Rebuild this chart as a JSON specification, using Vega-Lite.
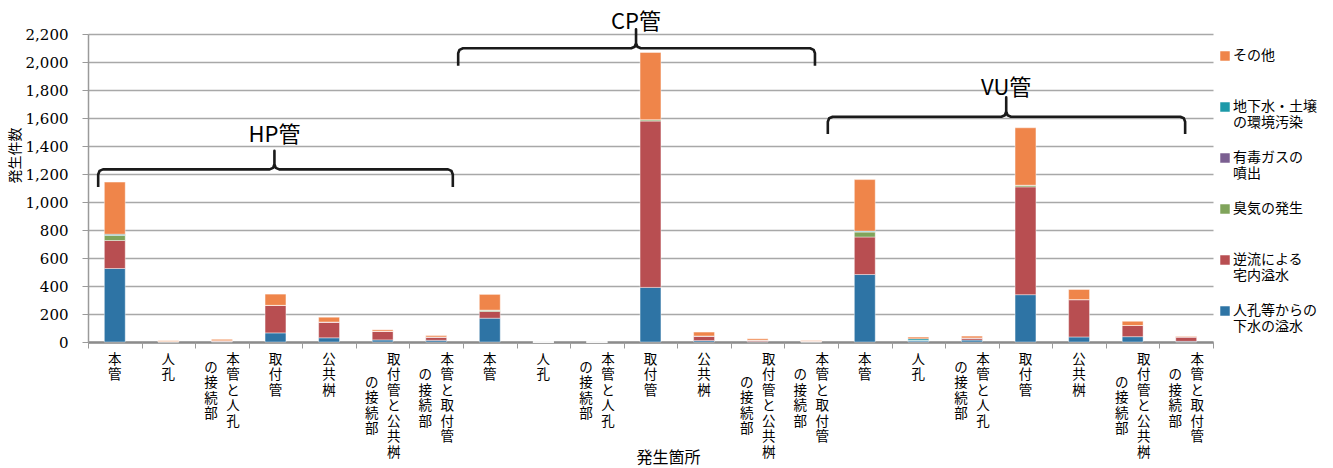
{
  "$schema": "https://vega.github.io/schema/vega-lite/v6.json",
  "width": 1125,
  "height": 308,
  "autosize": {"type": "none"},
  "padding": {"left": 88, "top": 34, "right": 120, "bottom": 126},
  "background": "white",
  "config": {
    "view": {"stroke": null},
    "font": "Noto Sans CJK JP",
    "axisY": {
      "tickCount": 11, "labelOverlap": false,
      "labelFont": "DejaVu Serif", "labelFontSize": 15, "labelFontWeight": "normal", "labelColor": "#000000", "labelPadding": 14,
      "tickSize": 6, "tickColor": "#9a9a9a", "domainColor": "#9a9a9a", "domainWidth": 1.5,
      "grid": true, "gridColor": "#a8a8a8", "gridWidth": 1.3,
      "titleFont": "Noto Sans CJK JP", "titleFontSize": 14, "titleFontWeight": "normal", "titleColor": "#000000",
      "titleX": -73, "titleY": 121, "titleAlign": "center", "titleBaseline": "middle", "titleAngle": -90
    }
  },
  "datasets": {
    "bars": [
      {"bar": "HP/本管", "人孔等からの下水の溢水": 525, "逆流による宅内溢水": 200, "臭気の発生": 38, "有毒ガスの噴出": 0, "地下水・土壌の環境汚染": 7, "その他": 372},
      {"bar": "HP/人孔", "人孔等からの下水の溢水": 1, "逆流による宅内溢水": 2, "臭気の発生": 0, "有毒ガスの噴出": 0, "地下水・土壌の環境汚染": 0, "その他": 6},
      {"bar": "HP/本管と人孔の接続部", "人孔等からの下水の溢水": 3, "逆流による宅内溢水": 6, "臭気の発生": 0, "有毒ガスの噴出": 0, "地下水・土壌の環境汚染": 0, "その他": 10},
      {"bar": "HP/取付管", "人孔等からの下水の溢水": 65, "逆流による宅内溢水": 197, "臭気の発生": 0, "有毒ガスの噴出": 0, "地下水・土壌の環境汚染": 0, "その他": 80},
      {"bar": "HP/公共桝", "人孔等からの下水の溢水": 30, "逆流による宅内溢水": 113, "臭気の発生": 0, "有毒ガスの噴出": 0, "地下水・土壌の環境汚染": 0, "その他": 34},
      {"bar": "HP/取付管と公共桝の接続部", "人孔等からの下水の溢水": 15, "逆流による宅内溢水": 62, "臭気の発生": 0, "有毒ガスの噴出": 0, "地下水・土壌の環境汚染": 0, "その他": 10},
      {"bar": "HP/本管と取付管の接続部", "人孔等からの下水の溢水": 12, "逆流による宅内溢水": 24, "臭気の発生": 0, "有毒ガスの噴出": 0, "地下水・土壌の環境汚染": 0, "その他": 10},
      {"bar": "CP/本管", "人孔等からの下水の溢水": 170, "逆流による宅内溢水": 48, "臭気の発生": 10, "有毒ガスの噴出": 0, "地下水・土壌の環境汚染": 0, "その他": 112},
      {"bar": "CP/人孔", "人孔等からの下水の溢水": 0, "逆流による宅内溢水": 0, "臭気の発生": 0, "有毒ガスの噴出": 0, "地下水・土壌の環境汚染": 0, "その他": 0},
      {"bar": "CP/本管と人孔の接続部", "人孔等からの下水の溢水": 0, "逆流による宅内溢水": 0, "臭気の発生": 0, "有毒ガスの噴出": 0, "地下水・土壌の環境汚染": 0, "その他": 0},
      {"bar": "CP/取付管", "人孔等からの下水の溢水": 390, "逆流による宅内溢水": 1188, "臭気の発生": 10, "有毒ガスの噴出": 0, "地下水・土壌の環境汚染": 0, "その他": 480},
      {"bar": "CP/公共桝", "人孔等からの下水の溢水": 10, "逆流による宅内溢水": 33, "臭気の発生": 0, "有毒ガスの噴出": 0, "地下水・土壌の環境汚染": 0, "その他": 28},
      {"bar": "CP/取付管と公共桝の接続部", "人孔等からの下水の溢水": 3, "逆流による宅内溢水": 10, "臭気の発生": 0, "有毒ガスの噴出": 0, "地下水・土壌の環境汚染": 0, "その他": 10},
      {"bar": "CP/本管と取付管の接続部", "人孔等からの下水の溢水": 0, "逆流による宅内溢水": 6, "臭気の発生": 0, "有毒ガスの噴出": 0, "地下水・土壌の環境汚染": 0, "その他": 4},
      {"bar": "VU/本管", "人孔等からの下水の溢水": 482, "逆流による宅内溢水": 268, "臭気の発生": 37, "有毒ガスの噴出": 0, "地下水・土壌の環境汚染": 5, "その他": 368},
      {"bar": "VU/人孔", "人孔等からの下水の溢水": 8, "逆流による宅内溢水": 3, "臭気の発生": 0, "有毒ガスの噴出": 0, "地下水・土壌の環境汚染": 12, "その他": 12},
      {"bar": "VU/本管と人孔の接続部", "人孔等からの下水の溢水": 14, "逆流による宅内溢水": 15, "臭気の発生": 0, "有毒ガスの噴出": 0, "地下水・土壌の環境汚染": 0, "その他": 13},
      {"bar": "VU/取付管", "人孔等からの下水の溢水": 338, "逆流による宅内溢水": 770, "臭気の発生": 12, "有毒ガスの噴出": 0, "地下水・土壌の環境汚染": 0, "その他": 410},
      {"bar": "VU/公共桝", "人孔等からの下水の溢水": 36, "逆流による宅内溢水": 267, "臭気の発生": 0, "有毒ガスの噴出": 0, "地下水・土壌の環境汚染": 0, "その他": 72},
      {"bar": "VU/取付管と公共桝の接続部", "人孔等からの下水の溢水": 38, "逆流による宅内溢水": 80, "臭気の発生": 0, "有毒ガスの噴出": 0, "地下水・土壌の環境汚染": 0, "その他": 30},
      {"bar": "VU/本管と取付管の接続部", "人孔等からの下水の溢水": 5, "逆流による宅内溢水": 32, "臭気の発生": 0, "有毒ガスの噴出": 0, "地下水・土壌の環境汚染": 0, "その他": 4}
    ],
    "brace": [
      {"pipe": "HP", "i": 1, "bx": 0.19, "by": 1108}, {"pipe": "HP", "i": 2, "bx": 0.19, "by": 1197}, {"pipe": "HP", "i": 3, "bx": 0.215, "by": 1222}, {"pipe": "HP", "i": 4, "bx": 0.28, "by": 1233}, {"pipe": "HP", "i": 5, "bx": 3.39, "by": 1233}, {"pipe": "HP", "i": 6, "bx": 3.455, "by": 1244}, {"pipe": "HP", "i": 7, "bx": 3.48, "by": 1270}, {"pipe": "HP", "i": 8, "bx": 3.48, "by": 1366}, {"pipe": "HP", "i": 9, "bx": 3.48, "by": 1270}, {"pipe": "HP", "i": 10, "bx": 3.505, "by": 1244}, {"pipe": "HP", "i": 11, "bx": 3.57, "by": 1233}, {"pipe": "HP", "i": 12, "bx": 6.72, "by": 1233}, {"pipe": "HP", "i": 13, "bx": 6.785, "by": 1222}, {"pipe": "HP", "i": 14, "bx": 6.81, "by": 1197}, {"pipe": "HP", "i": 15, "bx": 6.81, "by": 1108},
      {"pipe": "CP", "i": 1, "bx": 6.91, "by": 1973}, {"pipe": "CP", "i": 2, "bx": 6.91, "by": 2062}, {"pipe": "CP", "i": 3, "bx": 6.935, "by": 2087}, {"pipe": "CP", "i": 4, "bx": 7.0, "by": 2098}, {"pipe": "CP", "i": 5, "bx": 10.14, "by": 2098}, {"pipe": "CP", "i": 6, "bx": 10.205, "by": 2109}, {"pipe": "CP", "i": 7, "bx": 10.23, "by": 2135}, {"pipe": "CP", "i": 8, "bx": 10.23, "by": 2234}, {"pipe": "CP", "i": 9, "bx": 10.23, "by": 2135}, {"pipe": "CP", "i": 10, "bx": 10.255, "by": 2109}, {"pipe": "CP", "i": 11, "bx": 10.32, "by": 2098}, {"pipe": "CP", "i": 12, "bx": 13.48, "by": 2098}, {"pipe": "CP", "i": 13, "bx": 13.545, "by": 2087}, {"pipe": "CP", "i": 14, "bx": 13.57, "by": 2062}, {"pipe": "CP", "i": 15, "bx": 13.57, "by": 1973},
      {"pipe": "VU", "i": 1, "bx": 13.81, "by": 1485}, {"pipe": "VU", "i": 2, "bx": 13.81, "by": 1573}, {"pipe": "VU", "i": 3, "bx": 13.835, "by": 1598}, {"pipe": "VU", "i": 4, "bx": 13.9, "by": 1609}, {"pipe": "VU", "i": 5, "bx": 17.05, "by": 1609}, {"pipe": "VU", "i": 6, "bx": 17.115, "by": 1620}, {"pipe": "VU", "i": 7, "bx": 17.14, "by": 1646}, {"pipe": "VU", "i": 8, "bx": 17.14, "by": 1747}, {"pipe": "VU", "i": 9, "bx": 17.14, "by": 1646}, {"pipe": "VU", "i": 10, "bx": 17.165, "by": 1620}, {"pipe": "VU", "i": 11, "bx": 17.23, "by": 1609}, {"pipe": "VU", "i": 12, "bx": 20.39, "by": 1609}, {"pipe": "VU", "i": 13, "bx": 20.455, "by": 1598}, {"pipe": "VU", "i": 14, "bx": 20.48, "by": 1573}, {"pipe": "VU", "i": 15, "bx": 20.48, "by": 1485}
    ],
    "braceLabel": [
      {"name": "HP管", "tx": 3.48, "ty": 1478},
      {"name": "CP管", "tx": 10.23, "ty": 2286},
      {"name": "VU管", "tx": 17.14, "ty": 1814}
    ]
  },
  "layer": [
    {
      "data": {"name": "bars"},
      "transform": [
        {"fold": ["人孔等からの下水の溢水", "逆流による宅内溢水", "臭気の発生", "有毒ガスの噴出", "地下水・土壌の環境汚染", "その他"], "as": ["cause", "count"]},
        {"window": [{"op": "row_number", "as": "stackIdx"}], "groupby": ["bar"]}
      ],
      "mark": {"type": "bar", "width": {"band": 0.39}, "stroke": "#ffffff", "strokeWidth": 0.6, "strokeOpacity": 0.7},
      "encoding": {
        "x": {
          "field": "bar", "type": "nominal", "sort": null,
          "scale": {"paddingInner": 0, "paddingOuter": 0},
          "axis": {
            "orient": "bottom",
            "title": "発生箇所", "titleFont": "Noto Sans CJK JP", "titleFontSize": 16, "titleFontWeight": "normal", "titleColor": "#000000",
            "titleX": 580, "titleY": 115, "titleBaseline": "middle", "titleAlign": "center",
            "labelAngle": 0, "labelFont": "Noto Sans CJK JP", "labelFontSize": 13.5, "labelLineHeight": 15.5, "labelBaseline": "top", "labelAlign": "center",
            "labelPadding": 10, "labelOverlap": false, "labelBound": false, "labelColor": "#000000",
            "labelOffset": {"condition": {"test": "indexof(datum.value,'の接続部')>=0", "value": 11}, "value": 0},
            "labelExpr": "split(replace(split(datum.label,'/')[1],'の接続部',''),'')",
            "ticks": false,
            "domainColor": "#8c8c8c", "domainWidth": 2.5, "grid": false
          }
        },
        "y": {
          "field": "count", "type": "quantitative", "stack": "zero",
          "scale": {"domain": [0, 2200], "nice": false},
          "title": "発生件数"
        },
        "color": {
          "field": "cause", "type": "nominal",
          "scale": {
            "domain": ["その他", "地下水・土壌の環境汚染", "有毒ガスの噴出", "臭気の発生", "逆流による宅内溢水", "人孔等からの下水の溢水"],
            "range": ["#ef854a", "#1c99a8", "#7b5f91", "#80a45b", "#b84e51", "#2e74a5"]
          },
          "legend": {
            "orient": "none", "legendX": 1130, "legendY": 15, "title": null,
            "symbolType": "square", "symbolSize": 90, "symbolStrokeWidth": 0,
            "labelFont": "Noto Sans CJK JP", "labelFontSize": 14, "labelLineHeight": 20, "labelBaseline": "middle", "labelColor": "#000000",
            "labelOffset": 1, "labelLimit": 200, "rowPadding": 21,
            "labelExpr": "datum.label == 'その他' ? ['その他', ''] : datum.label == '地下水・土壌の環境汚染' ? ['地下水・土壌', 'の環境汚染'] : datum.label == '有毒ガスの噴出' ? ['有毒ガスの', '噴出'] : datum.label == '臭気の発生' ? ['臭気の発生', ''] : datum.label == '逆流による宅内溢水' ? ['逆流による', '宅内溢水'] : ['人孔等からの', '下水の溢水']"
          }
        },
        "order": {"field": "stackIdx", "type": "quantitative"}
      }
    },
    {
      "data": {"name": "bars"},
      "mark": {"type": "rule", "opacity": 0},
      "encoding": {
        "x": {
          "field": "bar", "type": "nominal", "sort": null,
          "scale": {"paddingInner": 0, "paddingOuter": 0},
          "axis": {
            "orient": "bottom", "title": null, "domain": false, "grid": false, "ticks": false,
            "values": ["HP/本管と人孔の接続部", "HP/取付管と公共桝の接続部", "HP/本管と取付管の接続部", "CP/本管と人孔の接続部", "CP/取付管と公共桝の接続部", "CP/本管と取付管の接続部", "VU/本管と人孔の接続部", "VU/取付管と公共桝の接続部", "VU/本管と取付管の接続部"],
            "labelAngle": 0, "labelFont": "Noto Sans CJK JP", "labelFontSize": 13.5, "labelLineHeight": 15.5, "labelBaseline": "top", "labelAlign": "center",
            "labelOverlap": false, "labelBound": false, "labelColor": "#000000",
            "labelOffset": -11,
            "labelPadding": {"condition": [{"test": "indexof(datum.value,'取付管と公共桝')>=0", "value": 33}, {"test": "indexof(datum.value,'本管と取付管')>=0", "value": 25.5}], "value": 18}
            ,
            "labelExpr": "['の','接','続','部']"
          }
        }
      }
    },
    {
      "data": {"name": "bars"},
      "mark": {"type": "rule", "opacity": 0},
      "encoding": {
        "x": {
          "field": "bar", "type": "nominal", "sort": null,
          "scale": {"paddingInner": 0, "paddingOuter": 0},
          "axis": {"orient": "bottom", "labels": false, "title": null, "domain": false, "grid": false, "tickBand": "extent", "tickSize": 6, "tickColor": "#9a9a9a", "tickWidth": 1}
        }
      }
    },
    {
      "data": {"name": "brace"},
      "mark": {"type": "line", "color": "#1a1a1a", "strokeWidth": 2.6, "strokeJoin": "round", "clip": false},
      "encoding": {
        "x": {"field": "bx", "type": "quantitative", "scale": {"domain": [0, 21], "nice": false, "zero": false}, "axis": null},
        "y": {"field": "by", "type": "quantitative", "scale": {"domain": [0, 2200], "nice": false}, "title": "発生件数"},
        "detail": {"field": "pipe", "type": "nominal"},
        "order": {"field": "i", "type": "quantitative"}
      }
    },
    {
      "data": {"name": "braceLabel"},
      "mark": {"type": "text", "font": "Noto Sans CJK JP", "fontSize": 22, "align": "center", "baseline": "middle", "color": "#000000", "clip": false},
      "encoding": {
        "x": {"field": "tx", "type": "quantitative", "scale": {"domain": [0, 21], "nice": false, "zero": false}, "axis": null},
        "y": {"field": "ty", "type": "quantitative", "scale": {"domain": [0, 2200], "nice": false}, "title": "発生件数"},
        "text": {"field": "name", "type": "nominal"}
      }
    }
  ],
  "resolve": {"scale": {"x": "independent"}, "axis": {"x": "independent"}}
}
